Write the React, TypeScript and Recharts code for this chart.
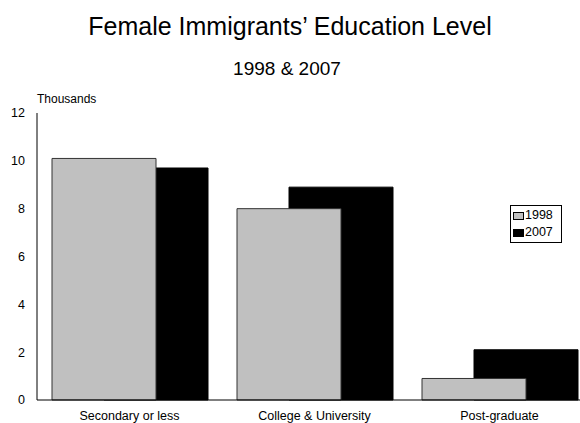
import React from 'react';
import { BarChart, Bar, XAxis, YAxis } from 'recharts';

const categories = ['Secondary or less', 'College & University', 'Post-graduate'];
const values1998 = [10.1, 8.0, 0.9];
const values2007 = [9.7, 8.9, 2.1];
const yTicks = [0, 2, 4, 6, 8, 10, 12];
const legendItems = [
  { label: '1998', color: '#c0c0c0' },
  { label: '2007', color: '#000000' },
];

const data = categories.map((name, i) => ({
  name,
  y1998: values1998[i],
  y2007: values2007[i],
}));

const FONT = '"Liberation Sans", Arial, sans-serif';

function LegendBox() {
  return (
    <div
      style={{
        position: 'absolute',
        left: 510,
        top: 205,
        border: '1px solid #000',
        background: '#fff',
        padding: '1px 4px 1px 2px',
        fontSize: 12.5,
        lineHeight: '17px',
        width: 44,
      }}
    >
      {legendItems.map((it) => (
        <div key={it.label} style={{ display: 'flex', alignItems: 'center' }}>
          <span
            style={{
              display: 'inline-block',
              width: 9,
              height: 6,
              background: it.color,
              border: '1px solid #000',
              marginRight: 1,
            }}
          />
          <span>{it.label}</span>
        </div>
      ))}
    </div>
  );
}

export default function App() {
  return (
    <div
      style={{
        position: 'absolute',
        left: 0,
        top: 0,
        width: 580,
        height: 423,
        overflow: 'hidden',
        background: '#fff',
        fontFamily: FONT,
      }}
    >
      <div
        style={{
          position: 'absolute',
          top: 12,
          left: 0,
          width: 580,
          textAlign: 'center',
          fontSize: 25,
        }}
      >
        Female Immigrants’ Education Level
      </div>
      <div
        style={{
          position: 'absolute',
          top: 58,
          left: 0,
          width: 574,
          textAlign: 'center',
          fontSize: 19,
        }}
      >
        1998 &amp; 2007
      </div>
      <div style={{ position: 'absolute', top: 92, left: 37, fontSize: 12 }}>Thousands</div>
      <div style={{ position: 'absolute', top: 0, left: 0 }}>
        <BarChart
          width={600}
          height={423}
          data={data}
          margin={{ top: 113, right: 8, left: 0, bottom: 0 }}
          barSize={104}
          barGap={-156}
          barCategoryGap={0}
        >
          <XAxis
            dataKey="name"
            tickLine={false}
            axisLine={{ stroke: '#000' }}
            height={23}
            tick={{ fill: '#000', fontSize: 12.5, fontFamily: FONT }}
            tickMargin={5}
            interval={0}
          />
          <YAxis
            domain={[0, 12]}
            ticks={yTicks}
            width={37}
            tickLine={false}
            axisLine={{ stroke: '#000' }}
            tick={{ fill: '#000', fontSize: 12.5, fontFamily: FONT }}
            tickMargin={6}
          />
          <Bar dataKey="y2007" name="2007" fill="#000" stroke="#000" isAnimationActive={false} />
          <Bar dataKey="y1998" name="1998" fill="#c0c0c0" stroke="#333" isAnimationActive={false} />
        </BarChart>
      </div>
      <LegendBox />
    </div>
  );
}
